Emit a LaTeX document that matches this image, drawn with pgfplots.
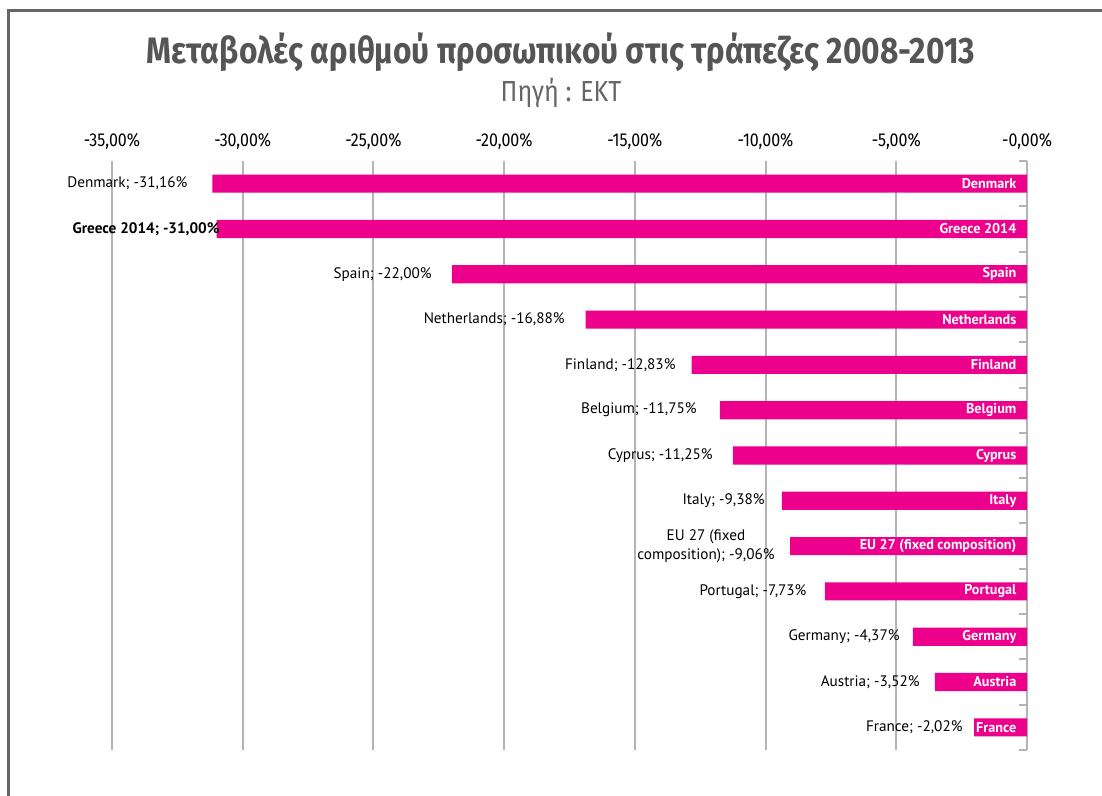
\documentclass[border=0pt]{standalone}
\usepackage{pgfplots}
\pgfplotsset{compat=1.18}
\usepackage{pgfplotstable}
\usepackage{fontspec}
\setmainfont{PT Sans}
\newfontfamily\titlefont[FakeStretch=0.86]{Fira Sans}
\definecolor{barpink}{HTML}{EC008C}
\definecolor{titlegray}{HTML}{555555}
\definecolor{gridgray}{HTML}{B4B4B8}

% change in bank staff 2008-2013, index 0 = top row
\pgfplotstableread[col sep=comma]{
y,v,name
0,-31.16,Denmark
1,-31.00,Greece 2014
2,-22.00,Spain
3,-16.88,Netherlands
4,-12.83,Finland
5,-11.75,Belgium
6,-11.25,Cyprus
7,-9.38,Italy
8,-9.06,EU 27 (fixed composition)
9,-7.73,Portugal
10,-4.37,Germany
11,-3.52,Austria
12,-2.02,France
}\banks

\begin{document}
\begin{tikzpicture}
% picture is 1102 x 796 px, 1 px = 0.5pt
\useasboundingbox (0pt,0pt) rectangle (551pt,398pt);
\draw[gray!80!black, line width=1.5pt] (4.25pt,0pt) -- (4.25pt,392.5pt) -- (551pt,392.5pt);
\node[titlegray, font=\titlefont\bfseries\fontsize{18.4}{20}\selectfont] at (280.5pt,372pt) {Μεταβολές αριθμού προσωπικού στις τράπεζες 2008-2013};
\node[titlegray!90, font=\titlefont\fontsize{14.5}{16}\selectfont] at (280.5pt,351.5pt) {Πηγή : ΕΚΤ};

\begin{axis}[at={(56pt,23pt)}, anchor=south west, scale only axis,
  width=457.5pt, height=294.5pt,
  xmin=-35, xmax=0, ymin=-0.5, ymax=12.5, y dir=reverse,
  axis x line*=top, axis y line*=right,
  x axis line style={draw=none},
  y axis line style={gridgray, line width=1pt},
  xtick={-35,-30,...,0},
  xticklabels={{-35,00\%},{-30,00\%},{-25,00\%},{-20,00\%},{-15,00\%},{-10,00\%},{-5,00\%},{-0,00\%}},
  xticklabel style={font=\titlefont\fontsize{9.3}{11}\selectfont, yshift=2pt},
  x tick style={draw=none},
  xmajorgrids, grid style={gridgray, line width=1pt},
  ytick={-0.5,0.5,...,12.5}, yticklabels={},
  ytick align=inside, major tick length=4pt,
  y tick style={gridgray, line width=1pt},
  clip=false]
  \addplot[xbar, bar width=0.4, fill=barpink, draw=none] table[x=v, y=y] {\banks};
  \addplot[draw=none, mark=none, nodes near coords, point meta=explicit symbolic,
    nodes near coords style={anchor=east, text=white, xshift=-1.8pt,
      font=\bfseries\fontsize{7.1}{8}\selectfont}]
    table[x expr=0, y=y, meta=name] {\banks};
  \begin{scope}[every node/.style={anchor=east, font=\fontsize{7.6}{9}\selectfont, inner sep=0pt}]
  \node at (axis cs:-32.10,0) {Denmark; -31,16\%};
  \node[font=\bfseries\fontsize{7.6}{9}\selectfont] at (axis cs:-30.87,1) {Greece 2014; -31,00\%};
  \node at (axis cs:-22.76,2) {Spain; -22,00\%};
  \node at (axis cs:-17.67,3) {Netherlands; -16,88\%};
  \node at (axis cs:-13.43,4) {Finland; -12,83\%};
  \node at (axis cs:-12.62,5) {Belgium; -11,75\%};
  \node at (axis cs:-12.01,6) {Cyprus; -11,25\%};
  \node at (axis cs:-10.02,7) {Italy; -9,38\%};
  \node[align=center, font=\fontsize{7.6}{9.5}\selectfont] at (axis cs:-9.64,8) {EU 27 (fixed\\composition); -9,06\%};
  \node at (axis cs:-8.42,9) {Portugal; -7,73\%};
  \node at (axis cs:-4.86,10) {Germany; -4,37\%};
  \node at (axis cs:-4.09,11) {Austria; -3,52\%};
  \node at (axis cs:-2.45,12) {France; -2,02\%};
  \end{scope}
\end{axis}
\end{tikzpicture}
\end{document}
